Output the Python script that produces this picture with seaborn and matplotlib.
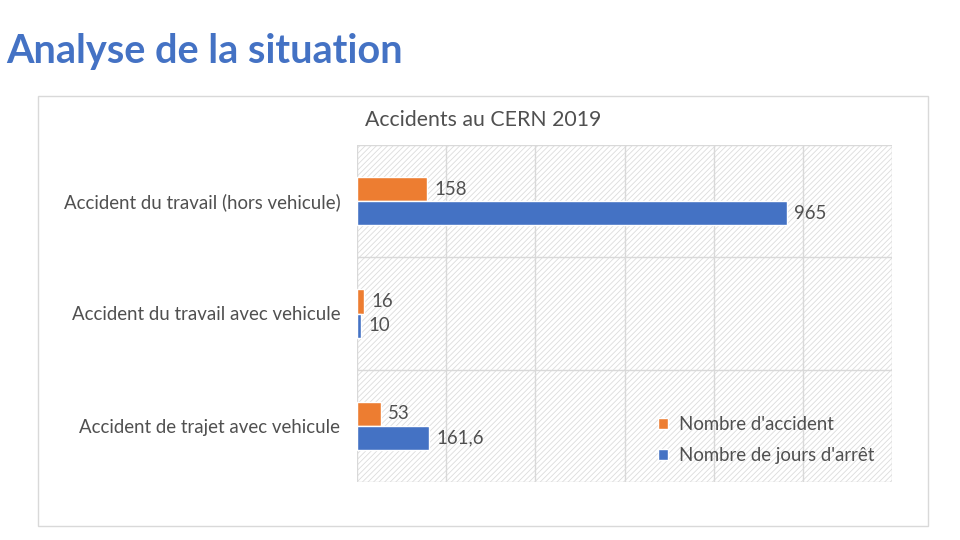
import matplotlib
matplotlib.use("Agg")
import matplotlib.pyplot as plt
import seaborn as sns
import pandas as pd
from matplotlib.patches import Rectangle

categories = ["Accident du travail (hors vehicule)",
              "Accident du travail avec vehicule",
              "Accident de trajet avec vehicule"]
series_names = ["Nombre d'accident", "Nombre de jours d'arrêt"]
accidents = [158, 16, 53]
jours_arret = [965, 10, 161.6]
x_ticks = [0, 200, 400, 600, 800, 1000, 1200]

df = pd.DataFrame({
    "categorie": categories * 2,
    "serie": [series_names[0]] * 3 + [series_names[1]] * 3,
    "valeur": accidents + jours_arret,
})

sns.set_theme(style="white")
plt.rcParams['font.family'] = ['Lato', 'DejaVu Sans']
plt.rcParams['hatch.linewidth'] = 0.6

TXT = "#505050"

fig = plt.figure(figsize=(9.6, 5.4), dpi=100)
fig.patch.set_facecolor("white")

# chart box border
fig.add_artist(Rectangle((38/960, 1-526/540), (928-38)/960, (526-96)/540,
                         transform=fig.transFigure, fill=False,
                         edgecolor="#D9D9D9", linewidth=1))

ax = fig.add_axes([357/960, 1-482/540, (892-357)/960, (482-145)/540])
ax.set_facecolor("white")
ax.add_patch(Rectangle((0, 0), 1, 1, transform=ax.transAxes, facecolor="white",
                       edgecolor="#DCDCDC", hatch="//////", linewidth=0, zorder=0))

colors = ["#ED7D31", "#4472C4"]
sns.barplot(data=df, y="categorie", x="valeur", hue="serie", orient="h",
            palette=colors, width=0.43, ax=ax, saturation=1, zorder=3,
            legend=True)

ax.set_xlim(0, 1200)
ax.set_ylim(2.5, -0.5)
for xv in x_ticks:
    ax.axvline(xv, color="#D9D9D9", linewidth=1, zorder=1)
for yv in [-0.5, 0.5, 1.5, 2.5]:
    ax.axhline(yv, color="#D9D9D9", linewidth=1, zorder=1)
ax.set_xticks(x_ticks)
ax.set_xticklabels([])
ax.tick_params(axis="both", length=0)
ax.tick_params(axis="y", pad=12, labelsize=13.4, labelcolor=TXT)
ax.set_xlabel("")
ax.set_ylabel("")
for s in ax.spines.values():
    s.set_visible(False)

def fmt(v):
    s = f"{v:g}"
    return s.replace(".", ",")

for cont in ax.containers:
    labels = [fmt(b.get_width()) for b in cont]
    ax.bar_label(cont, labels=labels, padding=5, fontsize=13.4, color=TXT)

h, l = ax.get_legend_handles_labels()
ax.get_legend().remove()
fig.legend(h, l, loc="center left", bbox_to_anchor=(641/960, 1-440/540),
           frameon=False, fontsize=13.4, labelcolor=TXT,
           handlelength=0.55, handleheight=0.55, handletextpad=0.6,
           labelspacing=0.75)

fig.text(483/960, 1-120/540, "Accidents au CERN 2019", ha="center", va="center",
         fontsize=15.3, color=TXT)
fig.text(6/960, 1-52/540, "Analyse de la situation", ha="left", va="center",
         fontsize=28.5, color="#4472C4", fontweight="bold")

fig.savefig("out.png", dpi=100)
